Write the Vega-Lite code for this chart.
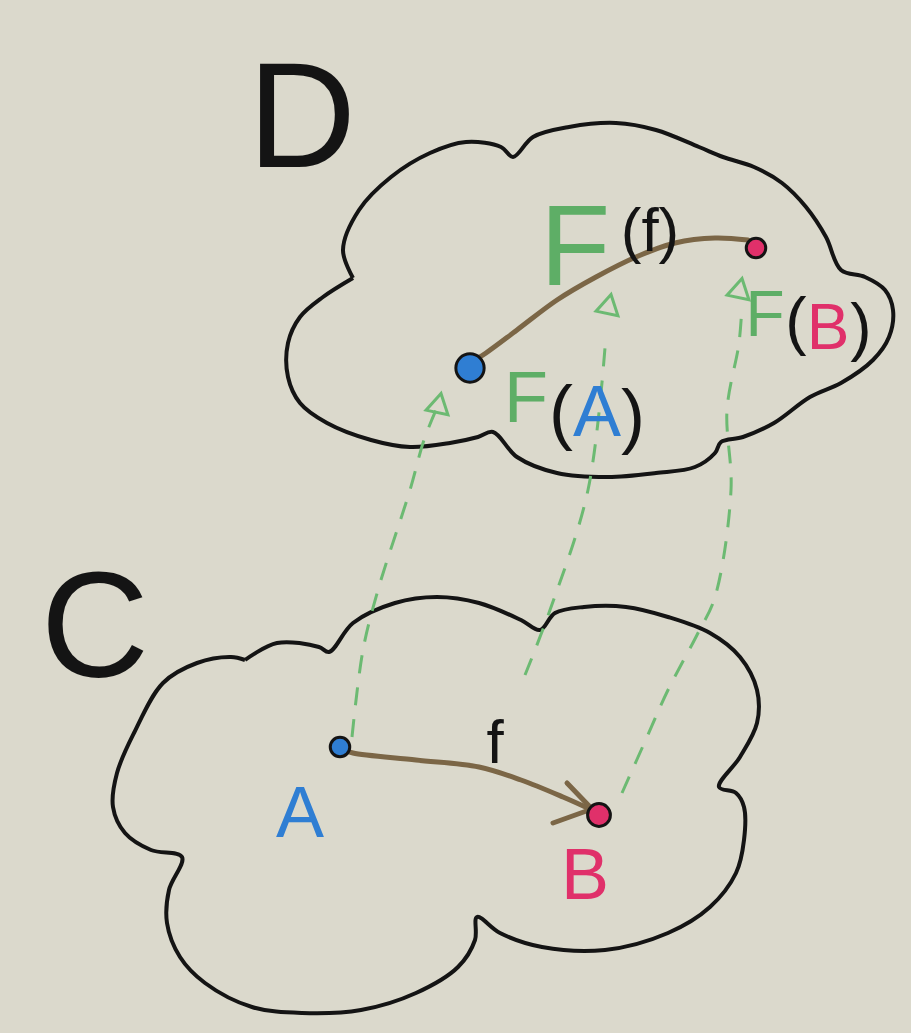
{
 "$schema": "https://vega.github.io/schema/vega-lite/v6.json",
 "width": 911, "height": 1033,
 "autosize": {"type": "fit", "contains": "padding"},
 "padding": 0,
 "background": "#dbd9cc",
 "config": {"view": {"stroke": null}},
 "datasets": {
  "clouds": [
   {"p":"D","i":0,"x":353,"y":278},{"p":"D","i":1,"x":343,"y":250},{"p":"D","i":2,"x":359,"y":210},{"p":"D","i":3,"x":391,"y":177},{"p":"D","i":4,"x":430,"y":153},{"p":"D","i":5,"x":466,"y":142},{"p":"D","i":6,"x":501,"y":147},{"p":"D","i":7,"x":513,"y":157},{"p":"D","i":8,"x":533,"y":137},{"p":"D","i":9,"x":569,"y":127},{"p":"D","i":10,"x":616,"y":123},{"p":"D","i":11,"x":656,"y":130},{"p":"D","i":12,"x":699,"y":147},{"p":"D","i":13,"x":723,"y":157},{"p":"D","i":14,"x":754,"y":167},{"p":"D","i":15,"x":782,"y":183},{"p":"D","i":16,"x":806,"y":207},{"p":"D","i":17,"x":826,"y":237},{"p":"D","i":18,"x":841,"y":270},{"p":"D","i":19,"x":865,"y":277},{"p":"D","i":20,"x":885,"y":290},{"p":"D","i":21,"x":893,"y":310},{"p":"D","i":22,"x":889,"y":337},{"p":"D","i":23,"x":873,"y":360},{"p":"D","i":24,"x":841,"y":383},{"p":"D","i":25,"x":810,"y":397},{"p":"D","i":26,"x":774,"y":423},{"p":"D","i":27,"x":743,"y":437},{"p":"D","i":28,"x":721,"y":442},{"p":"D","i":29,"x":715,"y":453},{"p":"D","i":30,"x":695,"y":467},{"p":"D","i":31,"x":656,"y":473},{"p":"D","i":32,"x":608,"y":477},{"p":"D","i":33,"x":557,"y":473},{"p":"D","i":34,"x":517,"y":457},{"p":"D","i":35,"x":493,"y":432},{"p":"D","i":36,"x":478,"y":437},{"p":"D","i":37,"x":450,"y":443},{"p":"D","i":38,"x":410,"y":447},{"p":"D","i":39,"x":371,"y":440},{"p":"D","i":40,"x":327,"y":423},{"p":"D","i":41,"x":300,"y":403},{"p":"D","i":42,"x":288,"y":377},{"p":"D","i":43,"x":288,"y":343},{"p":"D","i":44,"x":300,"y":317},{"p":"D","i":45,"x":323,"y":297},{"p":"D","i":46,"x":353,"y":278},
   {"p":"C","i":0,"x":245,"y":660},{"p":"C","i":1,"x":277,"y":643},{"p":"C","i":2,"x":319,"y":647},{"p":"C","i":3,"x":329,"y":652},{"p":"C","i":4,"x":353,"y":623},{"p":"C","i":5,"x":395,"y":603},{"p":"C","i":6,"x":437,"y":597},{"p":"C","i":7,"x":479,"y":603},{"p":"C","i":8,"x":521,"y":620},{"p":"C","i":9,"x":540,"y":630},{"p":"C","i":10,"x":555,"y":613},{"p":"C","i":11,"x":584,"y":607},{"p":"C","i":12,"x":626,"y":607},{"p":"C","i":13,"x":668,"y":617},{"p":"C","i":14,"x":710,"y":633},{"p":"C","i":15,"x":740,"y":657},{"p":"C","i":16,"x":757,"y":690},{"p":"C","i":17,"x":757,"y":723},{"p":"C","i":18,"x":740,"y":757},{"p":"C","i":19,"x":719,"y":787},{"p":"C","i":20,"x":736,"y":793},{"p":"C","i":21,"x":744,"y":807},{"p":"C","i":22,"x":744,"y":840},{"p":"C","i":23,"x":736,"y":873},{"p":"C","i":24,"x":710,"y":907},{"p":"C","i":25,"x":668,"y":933},{"p":"C","i":26,"x":605,"y":950},{"p":"C","i":27,"x":542,"y":947},{"p":"C","i":28,"x":500,"y":933},{"p":"C","i":29,"x":477,"y":917},{"p":"C","i":30,"x":475,"y":940},{"p":"C","i":31,"x":458,"y":967},{"p":"C","i":32,"x":416,"y":993},{"p":"C","i":33,"x":361,"y":1010},{"p":"C","i":34,"x":302,"y":1013},{"p":"C","i":35,"x":252,"y":1007},{"p":"C","i":36,"x":205,"y":983},{"p":"C","i":37,"x":180,"y":957},{"p":"C","i":38,"x":167,"y":923},{"p":"C","i":39,"x":169,"y":890},{"p":"C","i":40,"x":182,"y":857},{"p":"C","i":41,"x":151,"y":850},{"p":"C","i":42,"x":125,"y":833},{"p":"C","i":43,"x":113,"y":807},{"p":"C","i":44,"x":117,"y":773},{"p":"C","i":45,"x":134,"y":733},{"p":"C","i":46,"x":163,"y":683},{"p":"C","i":47,"x":197,"y":663},{"p":"C","i":48,"x":231,"y":657},{"p":"C","i":49,"x":245,"y":660}
  ],
  "dashes": [
   {"p":"A","i":0,"x":352,"y":737},{"p":"A","i":1,"x":363,"y":650},{"p":"A","i":2,"x":378,"y":590},{"p":"A","i":3,"x":410,"y":490},{"p":"A","i":4,"x":424,"y":440},{"p":"A","i":5,"x":436,"y":410},
   {"p":"f","i":0,"x":525,"y":675},{"p":"f","i":1,"x":550,"y":610},{"p":"f","i":2,"x":588,"y":490},{"p":"f","i":3,"x":606,"y":335},
   {"p":"B","i":0,"x":622,"y":793},{"p":"B","i":1,"x":647,"y":737},{"p":"B","i":2,"x":668,"y":690},{"p":"B","i":3,"x":698,"y":633},{"p":"B","i":4,"x":715,"y":597},{"p":"B","i":5,"x":731,"y":490},{"p":"B","i":6,"x":727,"y":410},{"p":"B","i":7,"x":739,"y":343},{"p":"B","i":8,"x":742,"y":305}
  ],
  "heads": [
   {"p":"A","x":439,"y":403},{"p":"f","x":609,"y":304},{"p":"B","x":740,"y":288}
  ],
  "morphisms": [
   {"p":"f","i":0,"x":345,"y":750},{"p":"f","i":1,"x":353,"y":753},{"p":"f","i":2,"x":416,"y":760},{"p":"f","i":3,"x":479,"y":767},{"p":"f","i":4,"x":521,"y":780},{"p":"f","i":5,"x":563,"y":797},{"p":"f","i":6,"x":592,"y":810},
   {"p":"h1","i":0,"x":567,"y":783},{"p":"h1","i":1,"x":592,"y":809},
   {"p":"h2","i":0,"x":553,"y":823},{"p":"h2","i":1,"x":592,"y":809},
   {"p":"Ff","i":0,"x":475,"y":360},{"p":"Ff","i":1,"x":486,"y":353},{"p":"Ff","i":2,"x":517,"y":330},{"p":"Ff","i":3,"x":557,"y":300},{"p":"Ff","i":4,"x":596,"y":277},{"p":"Ff","i":5,"x":636,"y":257},{"p":"Ff","i":6,"x":675,"y":243},{"p":"Ff","i":7,"x":715,"y":238},{"p":"Ff","i":8,"x":748,"y":240}
  ],
  "objects": [
   {"o":"A","c":"objA","k":"s","x":340,"y":747},
   {"o":"B","c":"objB","k":"m","x":599,"y":815},
   {"o":"F(A)","c":"objA","k":"l","x":470,"y":368},
   {"o":"F(B)","c":"objB","k":"s","x":756,"y":248}
  ],
  "labels": [
   {"t":"D","c":"ink","k":"title","x":302,"y":122},
   {"t":"C","c":"ink","k":"title","x":95,"y":632},
   {"t":"F","c":"functor","k":"Ff","x":575,"y":250},
   {"t":"(f)","c":"ink","k":"small","x":650,"y":232},
   {"t":"F","c":"functor","k":"label","x":526,"y":400},
   {"t":"(","c":"ink","k":"label","x":561,"y":414},
   {"t":"A","c":"objA","k":"label","x":597,"y":414},
   {"t":")","c":"ink","k":"label","x":633,"y":418},
   {"t":"F","c":"functor","k":"mini","x":765,"y":317},
   {"t":"(","c":"ink","k":"mini","x":796,"y":324},
   {"t":"B","c":"objB","k":"mini","x":828,"y":330},
   {"t":")","c":"ink","k":"mini","x":861,"y":330},
   {"t":"A","c":"objA","k":"label","x":300,"y":815},
   {"t":"B","c":"objB","k":"label","x":585,"y":877},
   {"t":"f","c":"ink","k":"small","x":495,"y":744}
  ]
 },
 "resolve": {"scale": {"size": "independent"}},
 "layer": [
  {
   "data": {"name": "clouds"},
   "mark": {"type": "line", "color": "#141414", "strokeWidth": 4, "interpolate": "catmull-rom"},
   "encoding": {
    "x": {"field": "x", "type": "quantitative", "scale": {"domain": [0, 911], "nice": false, "zero": false}, "axis": null},
    "y": {"field": "y", "type": "quantitative", "scale": {"domain": [0, 1033], "nice": false, "zero": false, "reverse": true}, "axis": null},
    "detail": {"field": "p"},
    "order": {"field": "i", "type": "quantitative"}
   }
  },
  {
   "data": {"name": "dashes"},
   "mark": {"type": "line", "color": "#6cba72", "strokeWidth": 3, "strokeDash": [18, 14], "interpolate": "catmull-rom"},
   "encoding": {
    "x": {"field": "x", "type": "quantitative", "scale": {"domain": [0, 911], "nice": false, "zero": false}, "axis": null},
    "y": {"field": "y", "type": "quantitative", "scale": {"domain": [0, 1033], "nice": false, "zero": false, "reverse": true}, "axis": null},
    "detail": {"field": "p"},
    "order": {"field": "i", "type": "quantitative"}
   }
  },
  {
   "data": {"name": "heads"},
   "mark": {"type": "point", "shape": "triangle-up", "filled": false, "color": "#6cba72", "strokeWidth": 3, "size": 500, "angle": 12, "opacity": 1},
   "encoding": {
    "x": {"field": "x", "type": "quantitative", "scale": {"domain": [0, 911], "nice": false, "zero": false}, "axis": null},
    "y": {"field": "y", "type": "quantitative", "scale": {"domain": [0, 1033], "nice": false, "zero": false, "reverse": true}, "axis": null}
   }
  },
  {
   "data": {"name": "morphisms"},
   "mark": {"type": "line", "color": "#7b6646", "strokeWidth": 5, "strokeCap": "round", "interpolate": "catmull-rom"},
   "encoding": {
    "x": {"field": "x", "type": "quantitative", "scale": {"domain": [0, 911], "nice": false, "zero": false}, "axis": null},
    "y": {"field": "y", "type": "quantitative", "scale": {"domain": [0, 1033], "nice": false, "zero": false, "reverse": true}, "axis": null},
    "detail": {"field": "p"},
    "order": {"field": "i", "type": "quantitative"}
   }
  },
  {
   "data": {"name": "objects"},
   "mark": {"type": "point", "shape": "circle", "filled": true, "stroke": "#141414", "strokeWidth": 3, "opacity": 1},
   "encoding": {
    "x": {"field": "x", "type": "quantitative", "scale": {"domain": [0, 911], "nice": false, "zero": false}, "axis": null},
    "y": {"field": "y", "type": "quantitative", "scale": {"domain": [0, 1033], "nice": false, "zero": false, "reverse": true}, "axis": null},
    "color": {"field": "c", "type": "nominal", "scale": {"domain": ["ink", "functor", "objA", "objB"], "range": ["#141414", "#5eae66", "#2f7ed3", "#e0306a"]}, "legend": null},
    "size": {"field": "k", "type": "nominal", "scale": {"type": "ordinal", "domain": ["s", "m", "l"], "range": [380, 520, 800]}, "legend": null}
   }
  },
  {
   "data": {"name": "labels"},
   "mark": {"type": "text", "font": "Liberation Sans", "align": "center", "baseline": "middle"},
   "encoding": {
    "x": {"field": "x", "type": "quantitative", "scale": {"domain": [0, 911], "nice": false, "zero": false}, "axis": null},
    "y": {"field": "y", "type": "quantitative", "scale": {"domain": [0, 1033], "nice": false, "zero": false, "reverse": true}, "axis": null},
    "text": {"field": "t"},
    "color": {"field": "c", "type": "nominal", "scale": {"domain": ["ink", "functor", "objA", "objB"], "range": ["#141414", "#5eae66", "#2f7ed3", "#e0306a"]}, "legend": null},
    "size": {"field": "k", "type": "nominal", "scale": {"type": "ordinal", "domain": ["title", "Ff", "label", "mini", "small"], "range": [150, 115, 72, 64, 62]}, "legend": null}
   }
  }
 ]
}
